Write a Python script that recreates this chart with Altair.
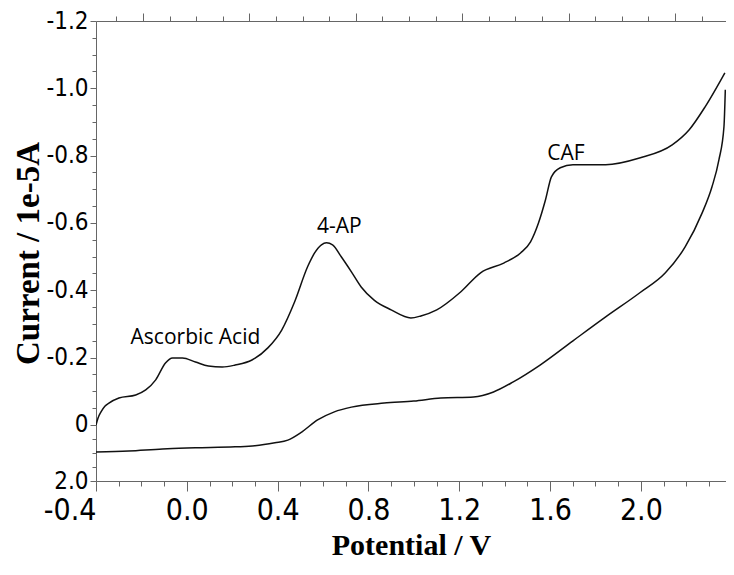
import altair as alt
import pandas as pd

# Forward (upper) scan: potential (V) and current (1e-5 A)
fwd_x = [-0.400, -0.391, -0.378, -0.361, -0.343, -0.299, -0.225, -0.181, -0.137, -0.094,
         -0.063, -0.019, 0.038, 0.095, 0.156, 0.213, 0.287, 0.357, 0.418, 0.475,
         0.532, 0.563, 0.593, 0.615, 0.642, 0.681, 0.725, 0.768, 0.825, 0.900,
         0.987, 1.031, 1.101, 1.206, 1.294, 1.396, 1.470, 1.514, 1.549, 1.580,
         1.606, 1.645, 1.701, 1.845, 1.994, 2.138, 2.213, 2.283, 2.370]
fwd_y = [0.000, -0.021, -0.039, -0.056, -0.065, -0.080, -0.089, -0.104, -0.134, -0.184,
         -0.199, -0.199, -0.187, -0.175, -0.172, -0.178, -0.193, -0.229, -0.282, -0.366,
         -0.470, -0.511, -0.535, -0.541, -0.535, -0.499, -0.455, -0.410, -0.371, -0.342,
         -0.318, -0.324, -0.342, -0.395, -0.452, -0.481, -0.511, -0.544, -0.600, -0.669,
         -0.737, -0.764, -0.773, -0.773, -0.793, -0.832, -0.877, -0.945, -1.046]

# Reverse (lower) scan
rev_x = [-0.400, -0.256, -0.107, 0.038, 0.213, 0.300, 0.388, 0.445, 0.506, 0.576,
         0.650, 0.725, 0.869, 1.000, 1.119, 1.263, 1.351, 1.438, 1.556, 1.701,
         1.845, 1.994, 2.108, 2.195, 2.270, 2.313, 2.344, 2.366, 2.372]
rev_y = [0.080, 0.077, 0.071, 0.068, 0.065, 0.062, 0.053, 0.045, 0.021, -0.015,
         -0.039, -0.053, -0.065, -0.071, -0.080, -0.083, -0.098, -0.128, -0.178, -0.250,
         -0.321, -0.392, -0.452, -0.529, -0.630, -0.707, -0.788, -0.886, -0.996]

# Peak annotations
ann_text = ["Ascorbic Acid", "4-AP", "CAF"]
ann_x = [0.038, 0.672, 1.670]
ann_y = [-0.259, -0.588, -0.805]

# Axis ticks
x_major = [-0.4, 0.0, 0.4, 0.8, 1.2, 1.6, 2.0]
x_minor = [-0.3, -0.2, -0.1, 0.1, 0.2, 0.3, 0.5, 0.6, 0.7, 0.9, 1.0, 1.1,
           1.3, 1.4, 1.5, 1.7, 1.8, 1.9, 2.1, 2.2, 2.3]
y_major = [-1.2, -1.0, -0.8, -0.6, -0.4, -0.2, 0.0, 0.1664]
y_minor = [-1.15, -1.1, -1.05, -0.95, -0.9, -0.85, -0.75, -0.7, -0.65, -0.55, -0.5,
           -0.45, -0.35, -0.3, -0.25, -0.15, -0.1, -0.05, 0.0416, 0.0832, 0.1248]
top_major = [0, 4, 8, 12, 16, 20]
top_minor = [-1, 1, 2, 3, 5, 6, 7, 9, 10, 11, 13, 14, 15, 17, 18, 19, 21]

curves = pd.DataFrame({
    "v": fwd_x + rev_x,
    "i": fwd_y + rev_y,
    "scan": ["forward"] * len(fwd_x) + ["reverse"] * len(rev_x),
    "order": list(range(len(fwd_x))) + list(range(len(rev_x))),
})
ann = pd.DataFrame({"label": ann_text, "x": ann_x, "y": ann_y})

NARROW = "Liberation Sans Narrow, DejaVu Sans Condensed, Arial Narrow, sans-serif"
SERIF = "Liberation Serif, Times New Roman, serif"
GREY = "#666666"

xs = alt.Scale(domain=[-0.4, 2.375], nice=False, zero=False)
ys = alt.Scale(domain=[-1.2, 0.1664], reverse=True, nice=False, zero=False)
ts = alt.Scale(domain=[-1.767, 21.917], nice=False, zero=False)

lines = alt.Chart(curves).mark_line(
    color="#111111", strokeWidth=1.5, interpolate="monotone", clip=True
).encode(
    x=alt.X("v:Q", scale=xs, axis=alt.Axis(
        orient="bottom", values=x_major, grid=False, tickSize=10, tickColor=GREY,
        domainColor=GREY, labelFont=NARROW, labelFontSize=30, labelColor="black",
        labelPadding=4, labelFlush=False, labelOverlap=False,
        labelAlign={"condition": {"test": "datum.value < -0.3", "value": "right"}, "value": "center"},
        labelExpr="(datum.value < 0 ? '-' : '') + format(abs(datum.value), '.1f')",
        title="Potential / V", titleFont=SERIF, titleFontWeight="bold", titleFontSize=30,
        titleColor="black", titleX=315, titleY=73, titleBaseline="alphabetic")),
    y=alt.Y("i:Q", scale=ys, axis=alt.Axis(
        orient="left", values=y_major, grid=False, tickSize=6, tickColor=GREY,
        domainColor=GREY, labelFont=NARROW, labelFontSize=24, labelColor="black",
        labelPadding=2, labelFlush=False, labelOverlap=False,
        labelExpr="datum.value > 0.1 ? '2.0' : (datum.value == 0 ? '0' : (datum.value < 0 ? '-' : '') + format(abs(datum.value), '.1f'))",
        title="Current / 1e-5A", titleFont=SERIF, titleFontWeight="bold", titleFontSize=33,
        titleColor="black", titleX=-58, titleY=232, titleBaseline="alphabetic")),
    detail="scan:N",
    order="order:Q",
)

labels = alt.Chart(ann).mark_text(
    font="Open Sans", fontSize=21, color="black", align="center", baseline="middle"
).encode(
    x=alt.X("x:Q", scale=xs, axis=None),
    y=alt.Y("y:Q", scale=ys, axis=None),
    text="label:N",
)

xminor = alt.Chart(pd.DataFrame({"m": x_minor})).mark_point(opacity=0).encode(
    x=alt.X("m:Q", scale=xs, axis=alt.Axis(
        orient="bottom", values=x_minor, grid=False, labels=False, domain=False,
        tickSize=5, tickColor=GREY, title=None)),
)

yminor = alt.Chart(pd.DataFrame({"m": y_minor})).mark_point(opacity=0).encode(
    y=alt.Y("m:Q", scale=ys, axis=alt.Axis(
        orient="left", values=y_minor, grid=False, labels=False, domain=False,
        tickSize=4, tickColor=GREY, title=None)),
)

topmajor = alt.Chart(pd.DataFrame({"t": top_major})).mark_point(opacity=0).encode(
    x=alt.X("t:Q", scale=ts, axis=alt.Axis(
        orient="top", values=top_major, grid=False, labels=False, domain=True,
        domainColor=GREY, tickSize=8, tickColor=GREY, title=None)),
)

topminor = alt.Chart(pd.DataFrame({"t": top_minor})).mark_point(opacity=0).encode(
    x=alt.X("t:Q", scale=ts, axis=alt.Axis(
        orient="top", values=top_minor, grid=False, labels=False, domain=False,
        tickSize=5, tickColor=GREY, title=None)),
)

chart = alt.layer(lines, labels, xminor, yminor, topmajor, topminor).resolve_scale(
    x="independent", y="independent"
).properties(
    width=630, height=460,
    padding={"left": 88, "top": 13, "right": 0, "bottom": 79},
    autosize=alt.AutoSizeParams(type="none"),
    background="white",
).configure_view(stroke=None)

chart.save("out.html", embed_options={"renderer": "svg", "actions": False})
